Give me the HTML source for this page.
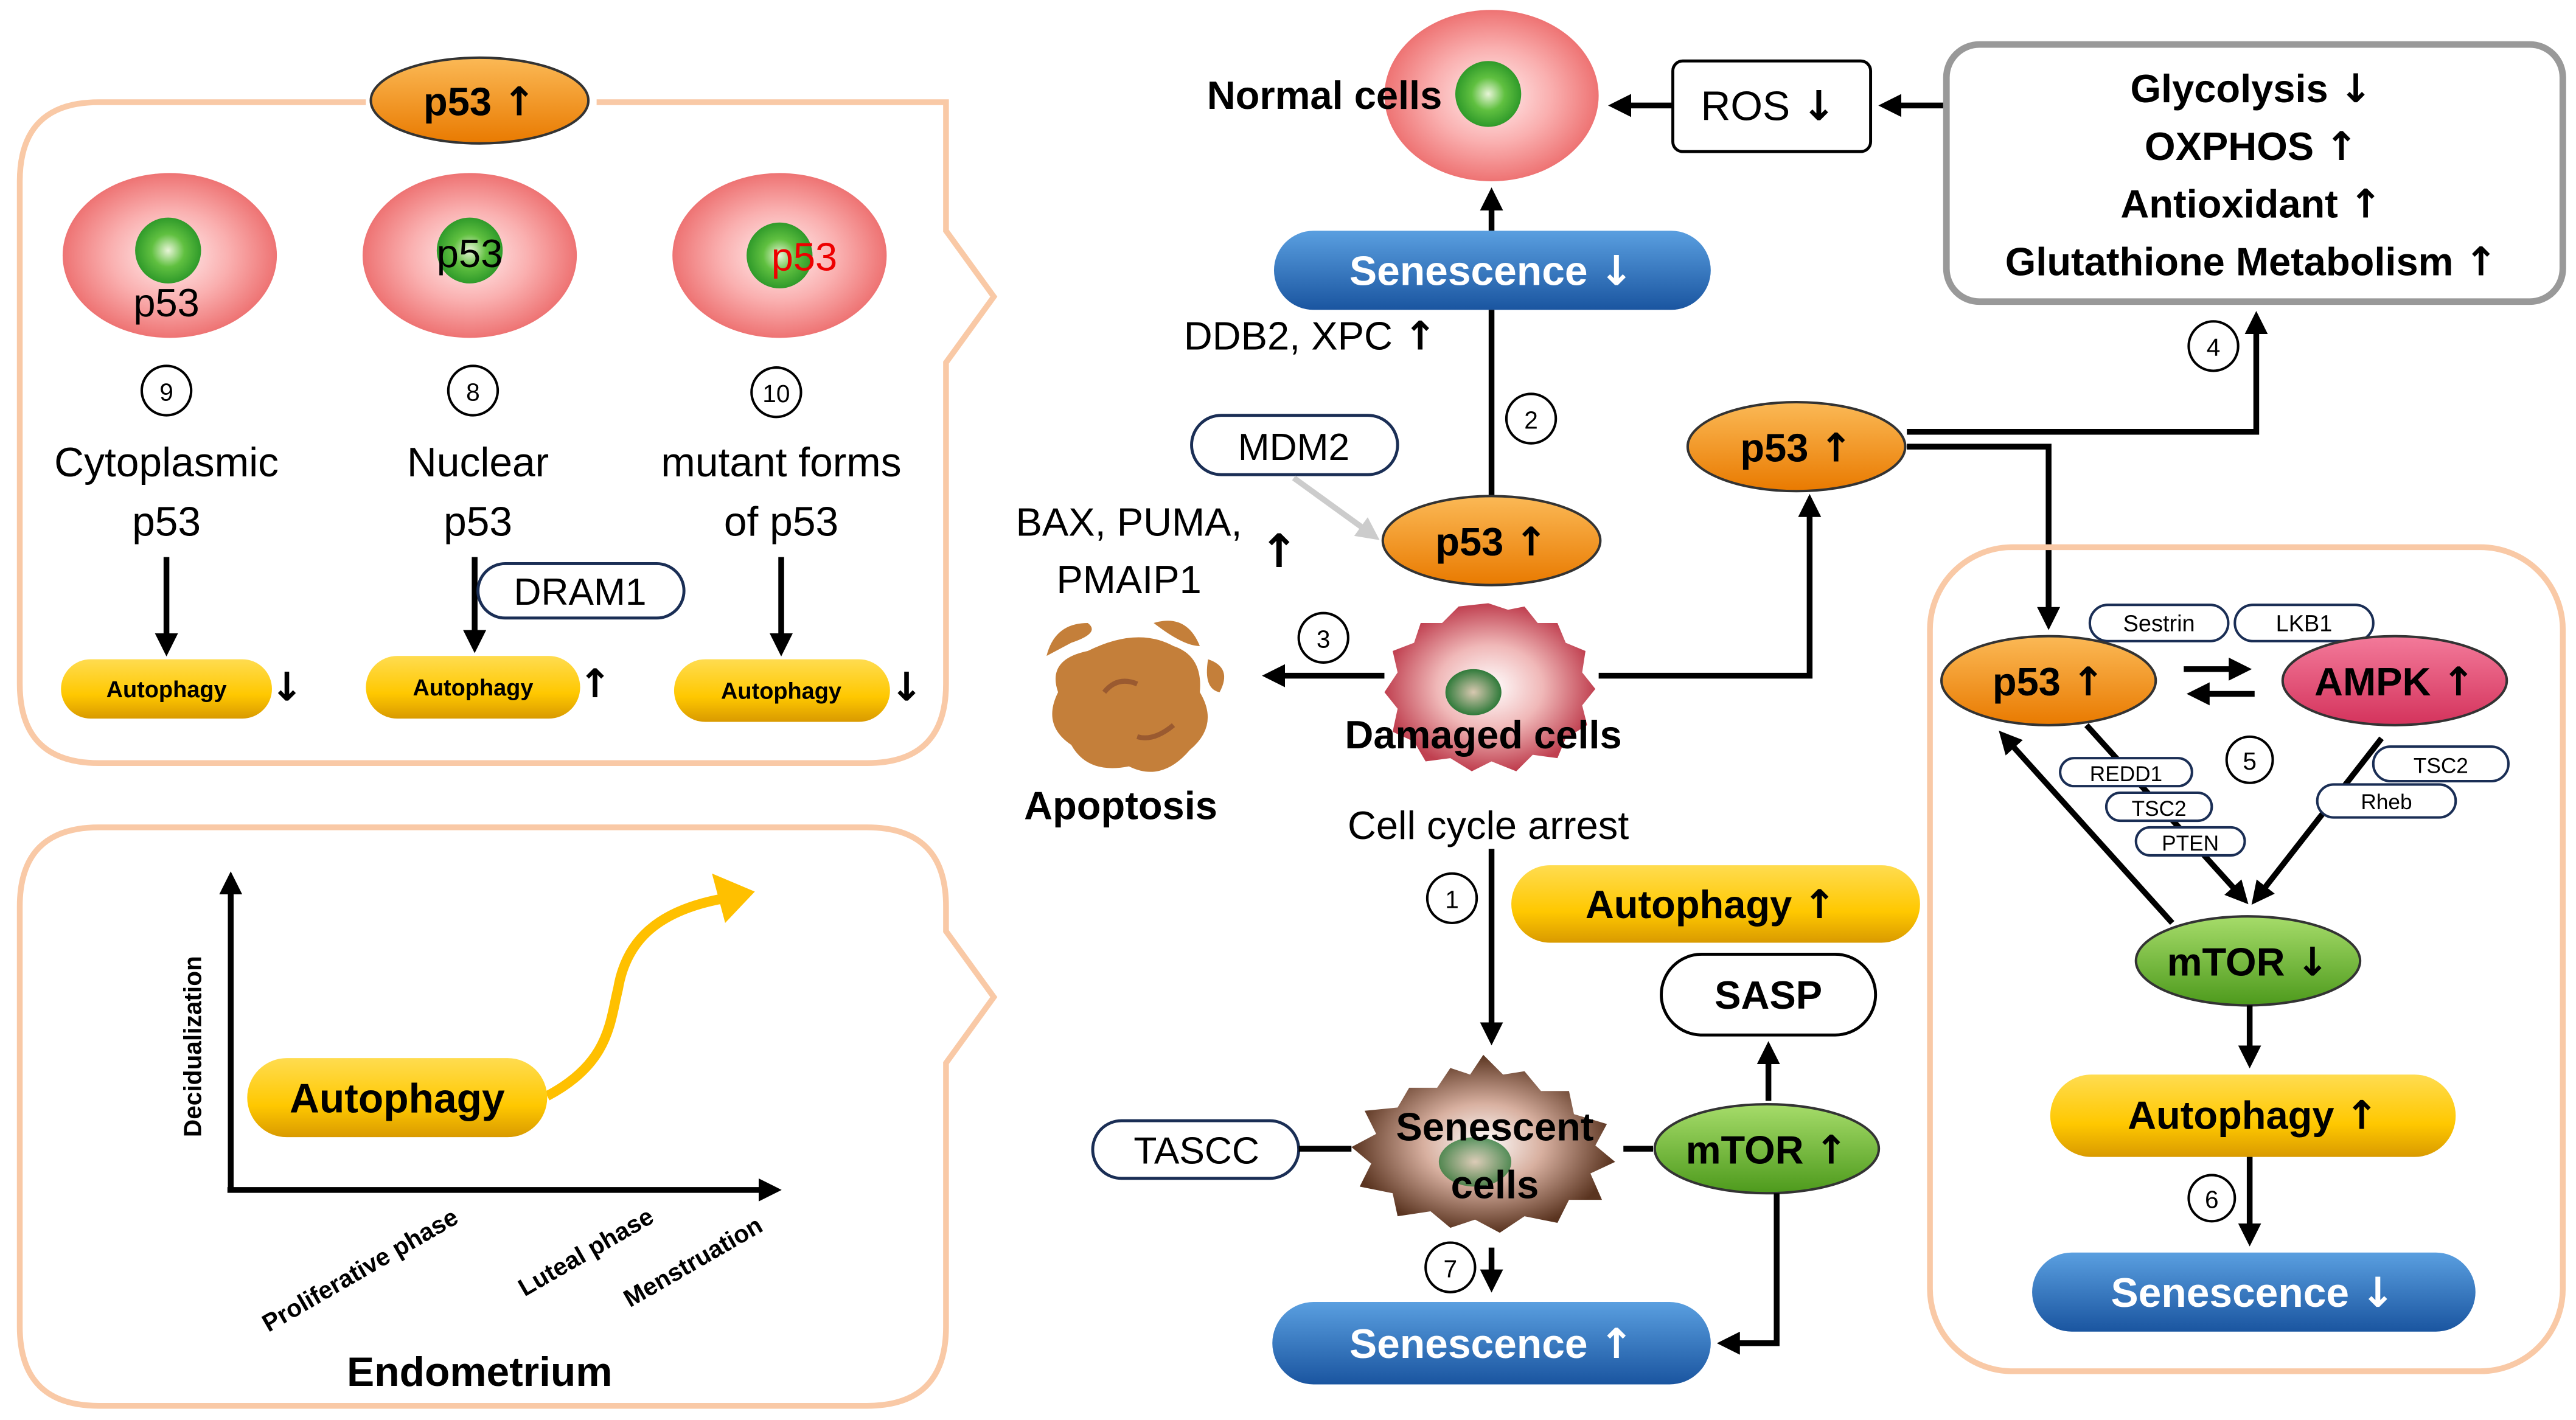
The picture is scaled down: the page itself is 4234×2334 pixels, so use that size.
<!DOCTYPE html>
<html><head><meta charset="utf-8"><style>
html,body{margin:0;padding:0;background:#fff;}
svg{display:block;}
text{font-family:"Liberation Sans",sans-serif;}
tspan.a,text.a{font-family:"DejaVu Sans",sans-serif;font-weight:bold;}
</style></head><body>
<svg width="4234" height="2334" viewBox="0 0 1563 861.6" preserveAspectRatio="none" xmlns="http://www.w3.org/2000/svg">
<defs>
<linearGradient id="or" x1="0" y1="0" x2="0" y2="1"><stop offset="0" stop-color="#fbb956"/><stop offset="1" stop-color="#e97a00"/></linearGradient>
<linearGradient id="bl" x1="0" y1="0" x2="0" y2="1"><stop offset="0" stop-color="#5a9fe0"/><stop offset="1" stop-color="#1a55a0"/></linearGradient>
<linearGradient id="ye" x1="0" y1="0" x2="0" y2="1"><stop offset="0" stop-color="#ffdc50"/><stop offset="0.6" stop-color="#ffc800"/><stop offset="1" stop-color="#d99a00"/></linearGradient>
<linearGradient id="gr" x1="0" y1="0" x2="0" y2="1"><stop offset="0" stop-color="#a6dc6a"/><stop offset="1" stop-color="#4d9a1c"/></linearGradient>
<linearGradient id="am" x1="0" y1="0" x2="0" y2="1"><stop offset="0" stop-color="#f37a9a"/><stop offset="1" stop-color="#d4335c"/></linearGradient>
<radialGradient id="pk"><stop offset="0" stop-color="#fff0f0"/><stop offset="0.55" stop-color="#fab0b0"/><stop offset="1" stop-color="#ee7373"/></radialGradient>
<radialGradient id="nu"><stop offset="0" stop-color="#e8f5d8"/><stop offset="0.5" stop-color="#60c040"/><stop offset="1" stop-color="#2f9a2a"/></radialGradient>
<radialGradient id="dm"><stop offset="0" stop-color="#fff"/><stop offset="0.5" stop-color="#f0b8b8"/><stop offset="1" stop-color="#c04050"/></radialGradient>
<radialGradient id="sn"><stop offset="0" stop-color="#fff"/><stop offset="0.45" stop-color="#d8b0a0"/><stop offset="1" stop-color="#5a3420"/></radialGradient>
<radialGradient id="dn"><stop offset="0" stop-color="#d8c8b0"/><stop offset="1" stop-color="#2f7a3a"/></radialGradient>
<marker id="ah" markerWidth="4" markerHeight="4" refX="2.2" refY="2" orient="auto" markerUnits="strokeWidth"><path d="M0,0 L4,2 L0,4 z" fill="#000"/></marker>
<marker id="ahg" markerWidth="4" markerHeight="4" refX="2.2" refY="2" orient="auto" markerUnits="strokeWidth"><path d="M0,0 L4,2 L0,4 z" fill="#ccc"/></marker>
</defs>

<path d="M60,62 H574 Q574,62 574,110 V140 L603,180 L574,220 V415 Q574,463 526,463 H60 Q12,463 12,415 V110 Q12,62 60,62 Z" fill="none" stroke="#f9c9a6" stroke-width="3.5"/>
<path d="M60,502 H526 Q574,502 574,550 V565 L603,605 L574,645 V805 Q574,853 526,853 H60 Q12,853 12,805 V550 Q12,502 60,502 Z" fill="none" stroke="#f9c9a6" stroke-width="3.5"/>

<rect x="222" y="42" width="140" height="40" fill="#fff"/>
<ellipse cx="291" cy="61" rx="66" ry="26" fill="url(#or)" stroke="#333" stroke-width="1.5"/>
<text x="291" y="70" text-anchor="middle" font-size="24" font-weight="bold">p53 <tspan class="a">↑</tspan></text>

<ellipse cx="103" cy="155" rx="65" ry="50" fill="url(#pk)"/>
<circle cx="102" cy="152" r="20" fill="url(#nu)"/>
<text x="101" y="192" text-anchor="middle" font-size="24">p53</text>
<ellipse cx="285" cy="155" rx="65" ry="50" fill="url(#pk)"/>
<circle cx="285" cy="152" r="20" fill="url(#nu)"/>
<text x="285" y="162" text-anchor="middle" font-size="24">p53</text>
<ellipse cx="473" cy="155" rx="65" ry="50" fill="url(#pk)"/>
<circle cx="473" cy="155" r="20" fill="url(#nu)"/>
<text x="488" y="164" text-anchor="middle" font-size="24" fill="#e00">p53</text>

<g fill="none" stroke="#000" stroke-width="1.5">
<circle cx="101" cy="237" r="15"/><circle cx="287" cy="237" r="15"/><circle cx="471" cy="238" r="15"/>
</g>
<g font-size="15" text-anchor="middle"><text x="101" y="243">9</text><text x="287" y="243">8</text><text x="471" y="244">10</text></g>

<g font-size="25" text-anchor="middle">
<text x="101" y="289">Cytoplasmic</text><text x="101" y="325">p53</text>
<text x="290" y="289">Nuclear</text><text x="290" y="325">p53</text>
<text x="474" y="289">mutant forms</text><text x="474" y="325">of p53</text>
</g>
<g stroke="#000" stroke-width="3.5" marker-end="url(#ah)">
<line x1="101" y1="338" x2="101" y2="392"/><line x1="288" y1="338" x2="288" y2="390"/><line x1="474" y1="338" x2="474" y2="392"/>
</g>
<rect x="290" y="342" width="125" height="33" rx="16.5" fill="#fff" stroke="#1a2e55" stroke-width="1.8"/>
<text x="352" y="367" text-anchor="middle" font-size="23">DRAM1</text>

<rect x="37" y="400" width="128" height="36" rx="18" fill="url(#ye)"/>
<rect x="222" y="398" width="130" height="38" rx="19" fill="url(#ye)"/>
<rect x="409" y="400" width="131" height="38" rx="19" fill="url(#ye)"/>
<g font-size="14" font-weight="bold" text-anchor="middle">
<text x="101" y="423">Autophagy</text><text x="287" y="422">Autophagy</text><text x="474" y="424">Autophagy</text>
</g>
<g font-size="24" class="a"><text class="a" x="164" y="425">↓</text><text class="a" x="351" y="423">↑</text><text class="a" x="540" y="425">↓</text></g>

<line x1="140" y1="722" x2="140" y2="535" stroke="#000" stroke-width="3.5" marker-end="url(#ah)"/>
<line x1="138" y1="722" x2="468" y2="722" stroke="#000" stroke-width="3.5" marker-end="url(#ah)"/>
<text transform="translate(122,635) rotate(-90)" text-anchor="middle" font-size="15" font-weight="bold">Decidualization</text>
<path d="M332,665 C370,645 370,620 375,600 C380,570 400,552 440,545" fill="none" stroke="#ffc000" stroke-width="6"/>
<path d="M432,530 L458,541 L440,560 Z" fill="#ffc000"/>
<rect x="150" y="642" width="182" height="48" rx="24" fill="url(#ye)"/>
<text x="241" y="675" text-anchor="middle" font-size="25" font-weight="bold">Autophagy</text>
<g font-size="15" font-weight="bold" text-anchor="middle">
<text transform="translate(221,775) rotate(-30)">Proliferative phase</text>
<text transform="translate(358,764) rotate(-30)">Luteal phase</text>
<text transform="translate(423,770) rotate(-30)">Menstruation</text>
</g>
<text x="291" y="841" text-anchor="middle" font-size="25" font-weight="bold">Endometrium</text>

<ellipse cx="905" cy="58" rx="65" ry="52" fill="url(#pk)"/>
<circle cx="903" cy="57" r="20" fill="url(#nu)"/>
<text x="875" y="66" text-anchor="end" font-size="24" font-weight="bold">Normal cells</text>
<rect x="1015" y="37" width="120" height="55" rx="6" fill="#fff" stroke="#000" stroke-width="1.8"/>
<text x="1073" y="73" text-anchor="middle" font-size="25">ROS <tspan class="a">↓</tspan></text>
<line x1="1015" y1="64" x2="982" y2="64" stroke="#000" stroke-width="3.5" marker-end="url(#ah)"/>
<line x1="1180" y1="64" x2="1146" y2="64" stroke="#000" stroke-width="3.5" marker-end="url(#ah)"/>
<rect x="1181" y="27" width="374" height="156" rx="20" fill="#fff" stroke="#999" stroke-width="4"/>
<g font-size="24" font-weight="bold" text-anchor="middle">
<text x="1366" y="62">Glycolysis <tspan class="a">↓</tspan></text><text x="1366" y="97">OXPHOS <tspan class="a">↑</tspan></text><text x="1366" y="132">Antioxidant <tspan class="a">↑</tspan></text><text x="1366" y="167">Glutathione Metabolism <tspan class="a">↑</tspan></text>
</g>

<line x1="905" y1="140" x2="905" y2="120" stroke="#000" stroke-width="3.5" marker-end="url(#ah)"/>
<rect x="773" y="140" width="265" height="48" rx="24" fill="url(#bl)"/>
<text x="905" y="173" text-anchor="middle" font-size="25" font-weight="bold" fill="#fff">Senescence <tspan class="a">↓</tspan></text>
<text x="795" y="212" text-anchor="middle" font-size="24">DDB2, XPC <tspan class="a">↑</tspan></text>
<line x1="905" y1="188" x2="905" y2="302" stroke="#000" stroke-width="3.5"/>
<circle cx="929" cy="254" r="15" fill="none" stroke="#000" stroke-width="1.5"/><text x="929" y="260" text-anchor="middle" font-size="15">2</text>
<rect x="723" y="252" width="125" height="36" rx="18" fill="#fff" stroke="#1a2e55" stroke-width="1.8"/>
<text x="785" y="279" text-anchor="middle" font-size="23">MDM2</text>
<line x1="785" y1="290" x2="832" y2="324" stroke="#ccc" stroke-width="3.5" marker-end="url(#ahg)"/>
<ellipse cx="905" cy="328" rx="66" ry="27" fill="url(#or)" stroke="#333" stroke-width="1.5"/>
<text x="905" y="337" text-anchor="middle" font-size="24" font-weight="bold">p53 <tspan class="a">↑</tspan></text>
<g font-size="24" text-anchor="middle"><text x="685" y="325">BAX, PUMA,</text><text x="685" y="360">PMAIP1</text><text class="a" x="776" y="344" font-size="28">↑</text></g>

<path d="M903,366 L915,370 L925,368 L933,378 L945,378 L950,390 L962,395 L960,408 L968,418 L960,428 L963,440 L950,448 L945,460 L930,458 L920,468 L905,462 L893,468 L880,460 L865,462 L858,450 L845,444 L848,430 L840,420 L848,408 L845,395 L858,390 L862,378 L875,378 L885,368 Z" fill="url(#dm)"/>
<ellipse cx="894" cy="420" rx="17" ry="14" fill="url(#dn)"/>
<text x="900" y="454" text-anchor="middle" font-size="24" font-weight="bold">Damaged cells</text>

<path d="M660,395 Q690,380 712,392 Q730,398 728,420 Q740,440 722,455 Q705,475 685,465 Q660,470 650,452 Q632,440 642,420 Q635,400 660,395 Z" fill="#c47f3a"/>
<path d="M635,398 Q640,378 660,378 Q668,384 650,390 Z" fill="#c47f3a"/>
<path d="M700,378 Q720,372 728,392 Q718,392 700,378 Z" fill="#c47f3a"/>
<path d="M733,400 Q748,405 740,420 Q730,418 733,400 Z" fill="#c47f3a"/>
<path d="M670,420 Q678,410 690,415" fill="none" stroke="#9a5a30" stroke-width="3"/>
<path d="M690,447 Q700,450 712,440" fill="none" stroke="#9a5a30" stroke-width="3"/>
<text x="680" y="497" text-anchor="middle" font-size="24" font-weight="bold">Apoptosis</text>
<line x1="840" y1="410" x2="772" y2="410" stroke="#000" stroke-width="3.5" marker-end="url(#ah)"/>
<circle cx="803" cy="387" r="15" fill="none" stroke="#000" stroke-width="1.5"/><text x="803" y="393" text-anchor="middle" font-size="15">3</text>

<polyline points="970,410 1098,410 1098,306" fill="none" stroke="#000" stroke-width="3.5" marker-end="url(#ah)"/>
<ellipse cx="1090" cy="271" rx="66" ry="27" fill="url(#or)" stroke="#333" stroke-width="1.5"/>
<text x="1090" y="280" text-anchor="middle" font-size="24" font-weight="bold">p53 <tspan class="a">↑</tspan></text>
<polyline points="1157,262 1369,262 1369,195" fill="none" stroke="#000" stroke-width="3.5" marker-end="url(#ah)"/>
<circle cx="1343" cy="210" r="15" fill="none" stroke="#000" stroke-width="1.5"/><text x="1343" y="216" text-anchor="middle" font-size="15">4</text>
<polyline points="1157,271 1243,271 1243,376" fill="none" stroke="#000" stroke-width="3.5" marker-end="url(#ah)"/>

<text x="903" y="509" text-anchor="middle" font-size="24">Cell cycle arrest</text>
<line x1="905" y1="515" x2="905" y2="628" stroke="#000" stroke-width="3.5" marker-end="url(#ah)"/>
<circle cx="881" cy="545" r="15" fill="none" stroke="#000" stroke-width="1.5"/><text x="881" y="551" text-anchor="middle" font-size="15">1</text>
<rect x="917" y="525" width="248" height="47" rx="23.5" fill="url(#ye)"/>
<text x="1038" y="557" text-anchor="middle" font-size="24" font-weight="bold">Autophagy <tspan class="a">↑</tspan></text>
<rect x="1008" y="579" width="130" height="49" rx="24.5" fill="#fff" stroke="#000" stroke-width="1.8"/>
<text x="1073" y="612" text-anchor="middle" font-size="24" font-weight="bold">SASP</text>

<path d="M900,640 L912,652 L925,650 L935,662 L952,662 L955,676 L975,682 L968,695 L980,705 L965,712 L972,728 L952,728 L945,742 L925,738 L910,748 L895,740 L880,745 L868,735 L848,738 L845,724 L825,720 L832,706 L820,696 L835,688 L828,674 L848,672 L855,660 L872,660 L880,648 L892,652 Z" fill="url(#sn)"/>
<ellipse cx="895" cy="705" rx="22" ry="15" fill="url(#dn)" opacity="0.8"/>
<text x="907" y="692" text-anchor="middle" font-size="24" font-weight="bold">Senescent</text>
<text x="907" y="727" text-anchor="middle" font-size="24" font-weight="bold">cells</text>
<rect x="663" y="680" width="125" height="35" rx="17.5" fill="#fff" stroke="#1a2e55" stroke-width="1.8"/>
<text x="726" y="706" text-anchor="middle" font-size="23">TASCC</text>
<line x1="788" y1="697" x2="820" y2="697" stroke="#000" stroke-width="3.5"/>
<line x1="985" y1="697" x2="1003" y2="697" stroke="#000" stroke-width="3.5"/>
<ellipse cx="1072" cy="697" rx="68" ry="27" fill="url(#gr)" stroke="#333" stroke-width="1.5"/>
<text x="1072" y="706" text-anchor="middle" font-size="24" font-weight="bold">mTOR <tspan class="a">↑</tspan></text>
<line x1="1073" y1="668" x2="1073" y2="638" stroke="#000" stroke-width="3.5" marker-end="url(#ah)"/>
<polyline points="1078,724 1078,815 1048,815" fill="none" stroke="#000" stroke-width="3.5" marker-end="url(#ah)"/>
<line x1="905" y1="757" x2="905" y2="778" stroke="#000" stroke-width="3.5" marker-end="url(#ah)"/>
<circle cx="880" cy="769" r="15" fill="none" stroke="#000" stroke-width="1.5"/><text x="880" y="775" text-anchor="middle" font-size="15">7</text>
<rect x="772" y="790" width="266" height="50" rx="25" fill="url(#bl)"/>
<text x="905" y="824" text-anchor="middle" font-size="25" font-weight="bold" fill="#fff">Senescence <tspan class="a">↑</tspan></text>

<rect x="1171" y="332" width="384" height="500" rx="50" fill="none" stroke="#f9c9a6" stroke-width="3.5"/>
<g stroke="#1a2e55" stroke-width="1.5" fill="#fff">
<rect x="1268" y="367" width="84" height="22" rx="11"/><rect x="1356" y="367" width="84" height="22" rx="11"/>
</g>
<g font-size="14" text-anchor="middle"><text x="1310" y="383">Sestrin</text><text x="1398" y="383">LKB1</text></g>
<line x1="1266" y1="440" x2="1360" y2="544" stroke="#000" stroke-width="3.5" marker-end="url(#ah)"/>
<line x1="1445" y1="448" x2="1370" y2="544" stroke="#000" stroke-width="3.5" marker-end="url(#ah)"/>
<line x1="1318" y1="560" x2="1217" y2="448" stroke="#000" stroke-width="3.5" marker-end="url(#ah)"/>
<ellipse cx="1243" cy="413" rx="65" ry="27" fill="url(#or)" stroke="#333" stroke-width="1.5"/>
<text x="1243" y="422" text-anchor="middle" font-size="24" font-weight="bold">p53 <tspan class="a">↑</tspan></text>
<ellipse cx="1453" cy="413" rx="68" ry="27" fill="url(#am)" stroke="#333" stroke-width="1.5"/>
<text x="1453" y="422" text-anchor="middle" font-size="24" font-weight="bold">AMPK <tspan class="a">↑</tspan></text>
<line x1="1325" y1="406" x2="1360" y2="406" stroke="#000" stroke-width="3.5" marker-end="url(#ah)"/>
<line x1="1368" y1="421" x2="1333" y2="421" stroke="#000" stroke-width="3.5" marker-end="url(#ah)"/>
<circle cx="1365" cy="461" r="14" fill="none" stroke="#000" stroke-width="1.5"/><text x="1365" y="467" text-anchor="middle" font-size="15">5</text>
<g stroke="#1a2e55" stroke-width="1.5" fill="#fff">
<rect x="1250" y="460" width="80" height="17" rx="8.5"/><rect x="1278" y="481" width="64" height="17" rx="8.5"/><rect x="1296" y="502" width="66" height="17" rx="8.5"/>
<rect x="1440" y="453" width="82" height="21" rx="10.5"/><rect x="1406" y="476" width="84" height="20" rx="10"/>
</g>
<g font-size="13" text-anchor="middle"><text x="1290" y="474">REDD1</text><text x="1310" y="495">TSC2</text><text x="1329" y="516">PTEN</text><text x="1481" y="469">TSC2</text><text x="1448" y="491">Rheb</text></g>
<ellipse cx="1364" cy="583" rx="68" ry="27" fill="url(#gr)" stroke="#333" stroke-width="1.5"/>
<text x="1364" y="592" text-anchor="middle" font-size="24" font-weight="bold">mTOR <tspan class="a">↓</tspan></text>
<line x1="1365" y1="610" x2="1365" y2="642" stroke="#000" stroke-width="3.5" marker-end="url(#ah)"/>
<rect x="1244" y="652" width="246" height="50" rx="25" fill="url(#ye)"/>
<text x="1367" y="685" text-anchor="middle" font-size="24" font-weight="bold">Autophagy <tspan class="a">↑</tspan></text>
<line x1="1365" y1="702" x2="1365" y2="750" stroke="#000" stroke-width="3.5" marker-end="url(#ah)"/>
<circle cx="1342" cy="727" r="14" fill="none" stroke="#000" stroke-width="1.5"/><text x="1342" y="733" text-anchor="middle" font-size="15">6</text>
<rect x="1233" y="760" width="269" height="48" rx="24" fill="url(#bl)"/>
<text x="1367" y="793" text-anchor="middle" font-size="25" font-weight="bold" fill="#fff">Senescence <tspan class="a">↓</tspan></text>
</svg>
</body></html>
